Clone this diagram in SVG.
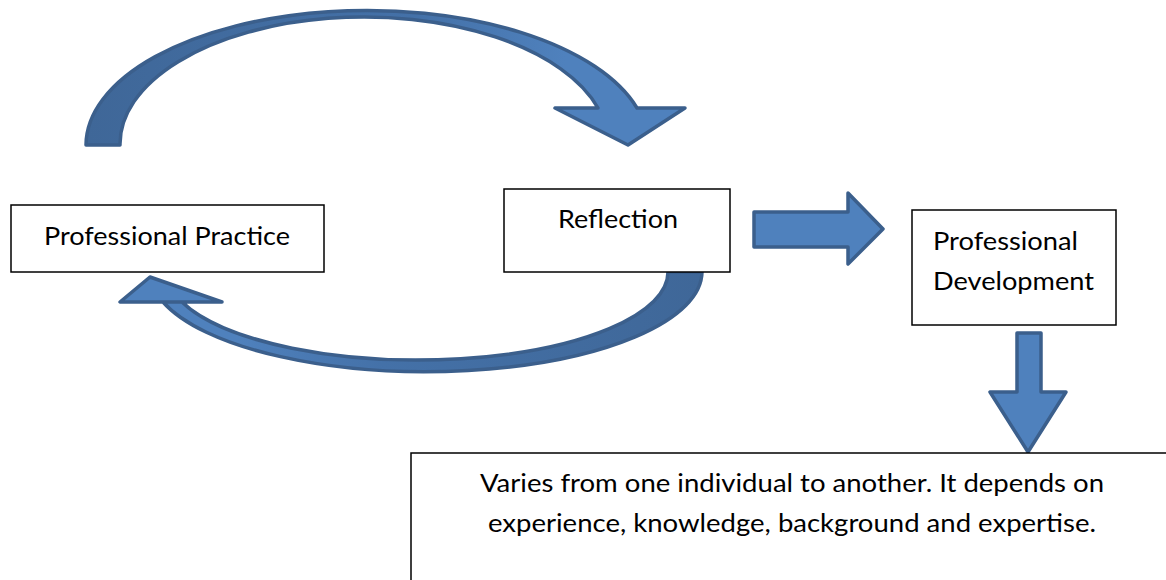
<svg xmlns="http://www.w3.org/2000/svg" width="1166" height="580" viewBox="0 0 1166 580">
<style>
.box{fill:#fff;stroke:#000;stroke-width:1.5}
.arr{stroke:#3b5f8c;stroke-width:3.5;stroke-linejoin:round}
.blk{fill:#4f81bd}
.t{font-family:Lato,"Open Sans",sans-serif;font-size:25px;fill:#000}
</style>
<defs>
<linearGradient id="g1" x1="0" y1="0" x2="1" y2="0">
<stop offset="0" stop-color="#3f6798"/><stop offset="0.55" stop-color="#4471a8"/><stop offset="0.8" stop-color="#4f81bd"/><stop offset="1" stop-color="#4f81bd"/>
</linearGradient>
<linearGradient id="g2" x1="1" y1="0" x2="0" y2="0">
<stop offset="0" stop-color="#3f6798"/><stop offset="0.55" stop-color="#4471a8"/><stop offset="0.8" stop-color="#4f81bd"/><stop offset="1" stop-color="#4f81bd"/>
</linearGradient>
</defs>
<g id="connectors">
<path id="arc-top" class="arr" fill="url(#g1)" d="M86,145 A281,135 0 0 1 637,108 L685,108 L628,145 L555,108 L598,108 A244,127 0 0 0 120,145 Z"/>
<path id="arc-bottom" class="arr" fill="url(#g2)" d="M702,272 A276,100 0 0 1 163,302 L222,302 L150,277 L120,302 L182,302 A250.5,88 0 0 0 668,272 Z"/>
<path id="arrow-right" class="arr blk" d="M754,212 L848,212 L848,193 L883,229 L848,264 L848,247 L754,247 Z"/>
<path id="arrow-down" class="arr blk" d="M1017,333 L1041,333 L1041,392 L1066,392 L1028,452 L990,392 L1017,392 Z"/>
</g>
<g id="node-practice">
<rect class="box" x="11" y="205" width="313" height="67"/>
<text class="t" x="44" y="245" textLength="246" lengthAdjust="spacingAndGlyphs">Professional Practice</text>
</g>
<g id="node-reflection">
<rect class="box" x="504" y="189" width="226" height="83"/>
<text class="t" x="558" y="228" textLength="120" lengthAdjust="spacingAndGlyphs">Reflection</text>
</g>
<g id="node-development">
<rect class="box" x="912" y="210" width="204" height="115"/>
<text class="t" x="933" y="250" textLength="145" lengthAdjust="spacingAndGlyphs">Professional</text>
<text class="t" x="933" y="290" textLength="161" lengthAdjust="spacingAndGlyphs">Development</text>
</g>
<g id="node-varies">
<rect class="box" x="411" y="453" width="760" height="140"/>
<text class="t" x="480" y="492" textLength="624" lengthAdjust="spacingAndGlyphs">Varies from one individual to another. It depends on</text>
<text class="t" x="488" y="532" textLength="608" lengthAdjust="spacingAndGlyphs">experience, knowledge, background and expertise.</text>
</g>
</svg>
